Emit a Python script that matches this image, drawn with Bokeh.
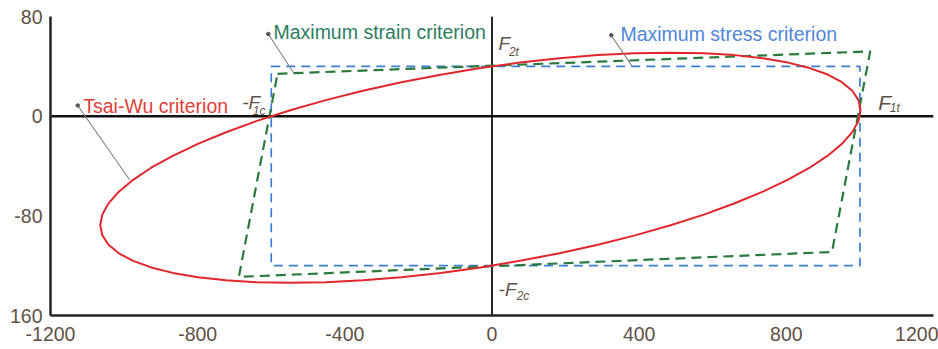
from bokeh.plotting import figure
from bokeh.models import Range1d, FixedTicker, Span
from bokeh.embed import file_html
from bokeh.resources import INLINE
from bokeh.core.properties import value

# ---- data ----
x_ticks = [-1200, -800, -400, 0, 400, 800, 1200]
x_tick_labels = ["-1200", "-800", "-400", "0", "400", "800", "1200"]
y_ticks = [-160, -80, 0, 80]
y_tick_labels = ["160", "-80", "0", "80"]

# Tsai-Wu failure envelope (sigma1, sigma2)
tsai_wu_x = [1001.8, 996.1, 979.2, 951.2, 912.5, 863.4, 804.5, 736.4, 659.9, 575.9,
             485.2, 388.8, 287.8, 183.3, 76.5, -31.5, -139.5, -246.3, -350.8, -451.8,
             -548.2, -638.9, -722.9, -799.4, -867.5, -926.4, -975.5, -1014.2, -1042.2, -1059.1,
             -1064.8, -1059.1, -1042.2, -1014.2, -975.5, -926.4, -867.5, -799.4, -722.9, -638.9,
             -548.2, -451.8, -350.8, -246.3, -139.5, -31.5, 76.5, 183.3, 287.8, 388.8,
             485.2, 575.9, 659.9, 736.4, 804.5, 863.4, 912.5, 951.2, 979.2, 996.1, 1001.8]
tsai_wu_y = [4.8, 12.9, 20.4, 27.3, 33.4, 38.6, 43.0, 46.5, 49.0, 50.5,
             51.0, 50.5, 49.0, 46.5, 43.0, 38.6, 33.3, 27.2, 20.4, 12.9,
             4.8, -3.8, -12.9, -22.2, -31.8, -41.4, -51.1, -60.6, -70.0, -79.0,
             -87.6, -95.7, -103.2, -110.1, -116.2, -121.4, -125.8, -129.3, -131.8, -133.3,
             -133.8, -133.3, -131.8, -129.3, -125.8, -121.4, -116.1, -110.0, -103.2, -95.7,
             -87.6, -79.0, -69.9, -60.6, -51.0, -41.4, -31.7, -22.2, -12.8, -3.8, 4.8]

# Maximum stress criterion (rectangle)
stress_x = [-600, 1000, 1000, -600, -600]
stress_y = [40, 40, -120, -120, 40]

# Maximum strain criterion (parallelogram)
strain_x = [-583, 1028, 924, -688, -583]
strain_y = [34, 52, -109, -129, 34]

FONT = value("Liberation Sans")
TICK_COLOR = "#5e5246"
RED = "#e2262d"
BLUE = "#3b7fd4"
GREEN = "#2a7a3e"

p = figure(width=938, height=349,
           x_range=Range1d(-1200, 1200), y_range=Range1d(-160, 80),
           output_backend="svg", toolbar_location=None)
p.min_border_left = 50
p.min_border_right = 5
p.min_border_top = 16
p.min_border_bottom = 34
p.outline_line_color = None
p.grid.visible = False
p.background_fill_color = "white"
p.border_fill_color = "white"

# axes
p.xaxis.ticker = FixedTicker(ticks=x_ticks)
p.xaxis.major_label_overrides = dict(zip(x_ticks, x_tick_labels))
p.yaxis.ticker = FixedTicker(ticks=y_ticks)
p.yaxis.major_label_overrides = dict(zip(y_ticks, y_tick_labels))
for ax in (p.xaxis, p.yaxis):
    ax.major_tick_out = 0
    ax.major_tick_in = 0
    ax.minor_tick_out = 0
    ax.minor_tick_in = 0
    ax.major_label_text_font = "Liberation Sans"
    ax.major_label_text_font_size = "19.5px"
    ax.major_label_text_color = TICK_COLOR
    ax.axis_line_color = "#222222"
    ax.axis_line_width = 2.5
p.xaxis.major_label_standoff = 11
p.yaxis.major_label_standoff = 8

# zero lines
p.add_layout(Span(location=0, dimension="width", line_color="#111111",
                  line_width=2.5, level="underlay"))
p.add_layout(Span(location=0, dimension="height", line_color="#111111",
                  line_width=1.8, level="underlay"))

# criteria
p.line(stress_x, stress_y, line_color=BLUE, line_width=1.7, line_dash="9 6")
p.line(strain_x, strain_y, line_color=GREEN, line_width=2.2, line_dash="10 6")
p.line(tsai_wu_x, tsai_wu_y, line_color=RED, line_width=2)

# leader lines for the labels
lead_x0 = [-1126, -608, 324]
lead_y0 = [8.6, 66, 65]
lead_x1 = [-985, -539, 381]
lead_y1 = [-51, 34.6, 40]
p.segment(x0=lead_x0, y0=lead_y0, x1=lead_x1, y1=lead_y1,
          line_color="#808080", line_width=1.1)
p.scatter(lead_x0, lead_y0, size=3.5, color="#555555")

# criterion labels
p.text(x=[-1111], y=[7.8], text=["Tsai-Wu criterion"], text_font=FONT,
       text_font_size="19.5px", text_color="#e2403a", text_baseline="alphabetic")
p.text(x=[-594], y=[67.4], text=["Maximum strain criterion"], text_font=FONT,
       text_font_size="19.5px", text_color="#2e7d62", text_baseline="alphabetic")
p.text(x=[349], y=[66.1], text=["Maximum stress criterion"], text_font=FONT,
       text_font_size="19.5px", text_color="#4f86d8", text_baseline="alphabetic")

# strength labels: F with subscripts
p.text(x=[-679, 18, 18], y=[11.2, 58.4, -139.1], text=["-F", "F", "-F"],
       text_font=FONT, text_font_style="italic", text_font_size="19px",
       text_color=TICK_COLOR, text_baseline="alphabetic")
p.text(x=[1050], y=[11.2], text=["F"],
       text_font=FONT, text_font_style="italic", text_font_size="21px",
       text_color=TICK_COLOR, text_baseline="alphabetic")
p.text(x=[-650, 46, 1081, 67], y=[4.0, 51.6, 6.6, -144.5],
       text=["1c", "2t", "1t", "2c"],
       text_font=FONT, text_font_style="italic", text_font_size="12px",
       text_color=TICK_COLOR, text_baseline="alphabetic")

open("out.html", "w").write(file_html(p, INLINE))
